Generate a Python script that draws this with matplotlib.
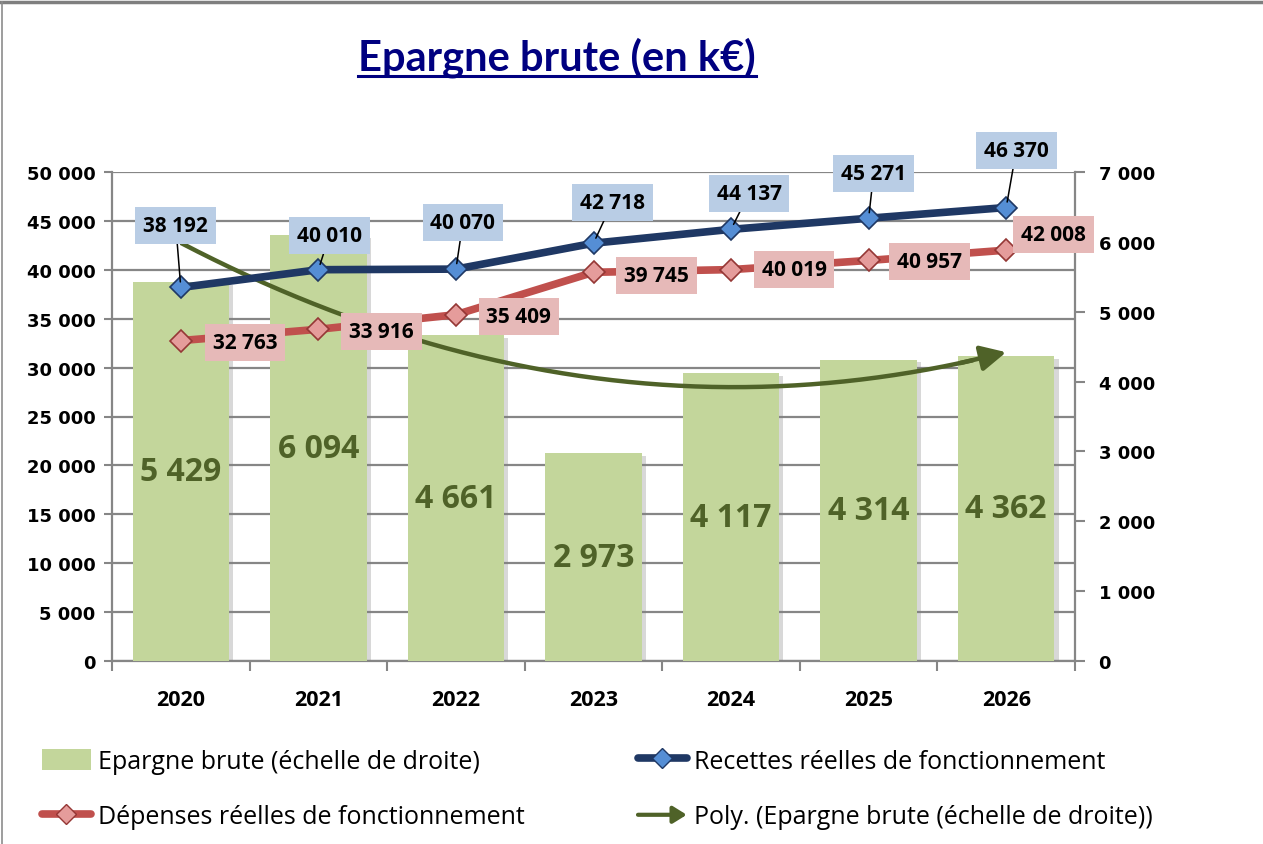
import numpy as np
import matplotlib
matplotlib.use("Agg")
import matplotlib.pyplot as plt
from matplotlib.patches import Patch, FancyArrowPatch
from matplotlib.lines import Line2D
from matplotlib.legend_handler import HandlerBase
import matplotlib.patheffects as pe

plt.rcParams['font.family'] = ['Open Sans', 'DejaVu Sans']

# ---------------- data ----------------
years = ['2020', '2021', '2022', '2023', '2024', '2025', '2026']
epargne = [5429, 6094, 4661, 2973, 4117, 4314, 4362]
recettes = [38192, 40010, 40070, 42718, 44137, 45271, 46370]
depenses = [32763, 33916, 35409, 39745, 40019, 40957, 42008]
left_ticks = list(range(0, 50001, 5000))
right_ticks = list(range(0, 7001, 1000))
title = "Epargne brute (en k€)"
lab_bar = "Epargne brute (échelle de droite)"
lab_rec = "Recettes réelles de fonctionnement"
lab_dep = "Dépenses réelles de fonctionnement"
lab_poly = "Poly. (Epargne brute (échelle de droite))"

# ---------------- styles ----------------
GREEN_BAR = '#C3D69B'
GREEN_DARK = '#4F6228'
BLUE_LINE = '#1F3864'
BLUE_MK = '#558ED5'
BLUE_BOX = '#B9CDE5'
RED_LINE = '#C0504D'
RED_MK = '#E59C9B'
RED_MKE = '#953735'
RED_BOX = '#E6B9B8'
GRID = '#868686'
TITLE_C = '#000080'
TICK_FONT = ['DejaVu Sans']

# label offsets in pixels (dx, dy)
blue_off = [(-5, 62), (11, 34), (7, 47), (19, 41), (18, 36), (5, 45), (10, 57)]
red_off = [(64, -2), (63, -2), (63, -2), (63, -3), (63, 0), (61, -1), (47, 16)]


def fmt(v):
    return f"{int(round(v)):,}".replace(",", " ")


W, H = 1263, 845
fig = plt.figure(figsize=(W / 100, H / 100), dpi=100)
fig.patch.set_facecolor('white')

L, R, T, B = 112, 1075, 173, 662
pos = [L / W, 1 - B / H, (R - L) / W, (B - T) / H]
ax = fig.add_axes(pos)
ax2 = ax.twinx()
ax3 = ax.twinx()

x = np.arange(len(years))

# --- bottom axes: grid + left ticks + x ticks
ax.set_xlim(-0.5, len(years) - 0.5)
ax.set_ylim(0, 50000)
ax.set_yticks(left_ticks)
ax.set_yticklabels([fmt(v) for v in left_ticks], fontfamily=TICK_FONT, fontweight='bold', fontsize=13)
ax.yaxis.grid(True, color=GRID, lw=1.6)
ax.set_axisbelow(True)
ax.set_xticks(x)
ax.set_xticklabels(years, fontweight='bold', fontsize=15.5)
ax.set_xticks(np.arange(-0.5, len(years)), minor=True)
ax.tick_params(axis='x', which='major', length=0, pad=20)
ax.tick_params(axis='x', which='minor', length=7, width=1.5, color=GRID)
ax.tick_params(axis='y', length=6, width=1.5, color=GRID, pad=6)
for s in ['top', 'right']:
    ax.spines[s].set_visible(False)
for s in ['left', 'bottom']:
    ax.spines[s].set_color(GRID)
    ax.spines[s].set_linewidth(1.6)

# --- bars on right axis
ax2.set_ylim(0, 7000)
ax2.set_yticks(right_ticks)
ax2.set_yticklabels([fmt(v) for v in right_ticks], fontfamily=TICK_FONT, fontweight='bold', fontsize=13)
ax2.tick_params(axis='y', length=7, width=1.5, color=GRID, pad=10)
for s in ['top', 'left', 'bottom']:
    ax2.spines[s].set_visible(False)
ax2.spines['right'].set_color(GRID)
ax2.spines['right'].set_linewidth(1.6)
bars = ax2.bar(x, epargne, width=0.7, color=GREEN_BAR, zorder=2)
for b in bars:
    b.set_path_effects([pe.SimplePatchShadow(offset=(3, -2), shadow_rgbFace='#808080', alpha=0.3), pe.Normal()])
ax2.bar_label(bars, labels=[fmt(v) for v in epargne], label_type='center',
              fontsize=23, fontweight='bold', color=GREEN_DARK)

# polynomial trend (order 2) of epargne
coef = np.polyfit(x, epargne, 2)
xs = np.linspace(0, len(years) - 1, 200)
ys = np.polyval(coef, xs)
ax2.plot(xs[:-8], ys[:-8], color=GREEN_DARK, lw=3.2, zorder=3, solid_capstyle='butt')
ax2.annotate('', xy=(xs[-1], ys[-1]), xytext=(xs[-12], ys[-12]),
             arrowprops=dict(arrowstyle='-|>,head_length=0.7,head_width=0.35', color=GREEN_DARK,
                             lw=3.2, mutation_scale=22, shrinkA=0, shrinkB=0), zorder=3)

# --- lines on top axes
ax3.set_ylim(0, 50000)
ax3.set_xlim(-0.5, len(years) - 0.5)
ax3.set_yticks([])
for s in ax3.spines.values():
    s.set_visible(False)
ax3.plot(x, depenses, color=RED_LINE, lw=5.5, marker='D', ms=11, mfc=RED_MK, mec=RED_MKE,
         mew=1.2, zorder=3, solid_capstyle='round')
ax3.plot(x, recettes, color=BLUE_LINE, lw=5.5, marker='D', ms=11, mfc=BLUE_MK, mec=BLUE_LINE,
         mew=1.2, zorder=4, solid_capstyle='round')

for i, v in enumerate(recettes):
    ax3.annotate(fmt(v), xy=(x[i], v), xytext=blue_off[i], textcoords='offset pixels',
                 ha='center', va='center', fontsize=15, fontweight='bold', color='black',
                 bbox=dict(boxstyle='square,pad=0.38', fc=BLUE_BOX, ec='none'),
                 arrowprops=dict(arrowstyle='-', color='black', lw=1.1, shrinkA=0, shrinkB=4),
                 zorder=6)
for i, v in enumerate(depenses):
    ax3.annotate(fmt(v), xy=(x[i], v), xytext=red_off[i], textcoords='offset pixels',
                 ha='center', va='center', fontsize=15, fontweight='bold', color='black',
                 bbox=dict(boxstyle='square,pad=0.38', fc=RED_BOX, ec='none'),
                 zorder=5)

# --- title with underline
t = fig.text(557 / W, 1 - 58 / H, title, ha='center', va='center', fontsize=30,
             fontweight='bold', color=TITLE_C, fontfamily=['Lato', 'DejaVu Sans'])
fig.canvas.draw()
bb = t.get_window_extent()
uy = (H - 77) / H
fig.add_artist(Line2D([bb.x0 / W, bb.x1 / W], [uy, uy], color=TITLE_C, lw=2.2))

# --- outer frame
fig.add_artist(Line2D([0, 1], [1 - 3 / H, 1 - 3 / H], color='#7F7F7F', lw=2.5))
fig.add_artist(Line2D([2 / W, 2 / W], [0, 1 - 3 / H], color='#8C8C8C', lw=1.2))


# --- legend
class ArrowProxy:
    pass


class HandlerArrow(HandlerBase):
    def create_artists(self, legend, orig_handle, xdescent, ydescent, width, height, fontsize, trans):
        y = height / 2 - ydescent
        p = FancyArrowPatch((-xdescent, y), (-xdescent + width, y),
                            arrowstyle='-|>,head_length=0.45,head_width=0.28', mutation_scale=fontsize,
                            lw=3, color=GREEN_DARK, transform=trans, shrinkA=0, shrinkB=0)
        return [p]


h_bar = Patch(facecolor=GREEN_BAR, edgecolor='none')
h_rec = Line2D([], [], color=BLUE_LINE, lw=5.5, marker='D', ms=10, mfc=BLUE_MK, mec=BLUE_LINE,
               solid_capstyle='round')
h_dep = Line2D([], [], color=RED_LINE, lw=5.5, marker='D', ms=10, mfc=RED_MK, mec=RED_MKE,
               solid_capstyle='round')
h_poly = ArrowProxy()

common = dict(frameon=False, fontsize=18, handlelength=1.95, handleheight=0.95,
              handletextpad=0.28, labelspacing=1.2, borderpad=0, borderaxespad=0,
              loc='center left')
fig.legend([h_bar, h_dep], [lab_bar, lab_dep], bbox_to_anchor=(42 / W, 1 - 790 / H), **common)
fig.legend([h_rec, h_poly], [lab_rec, lab_poly], bbox_to_anchor=(638 / W, 1 - 790 / H),
           handler_map={ArrowProxy: HandlerArrow()}, **common)

fig.savefig('out.png', dpi=100, facecolor='white')
